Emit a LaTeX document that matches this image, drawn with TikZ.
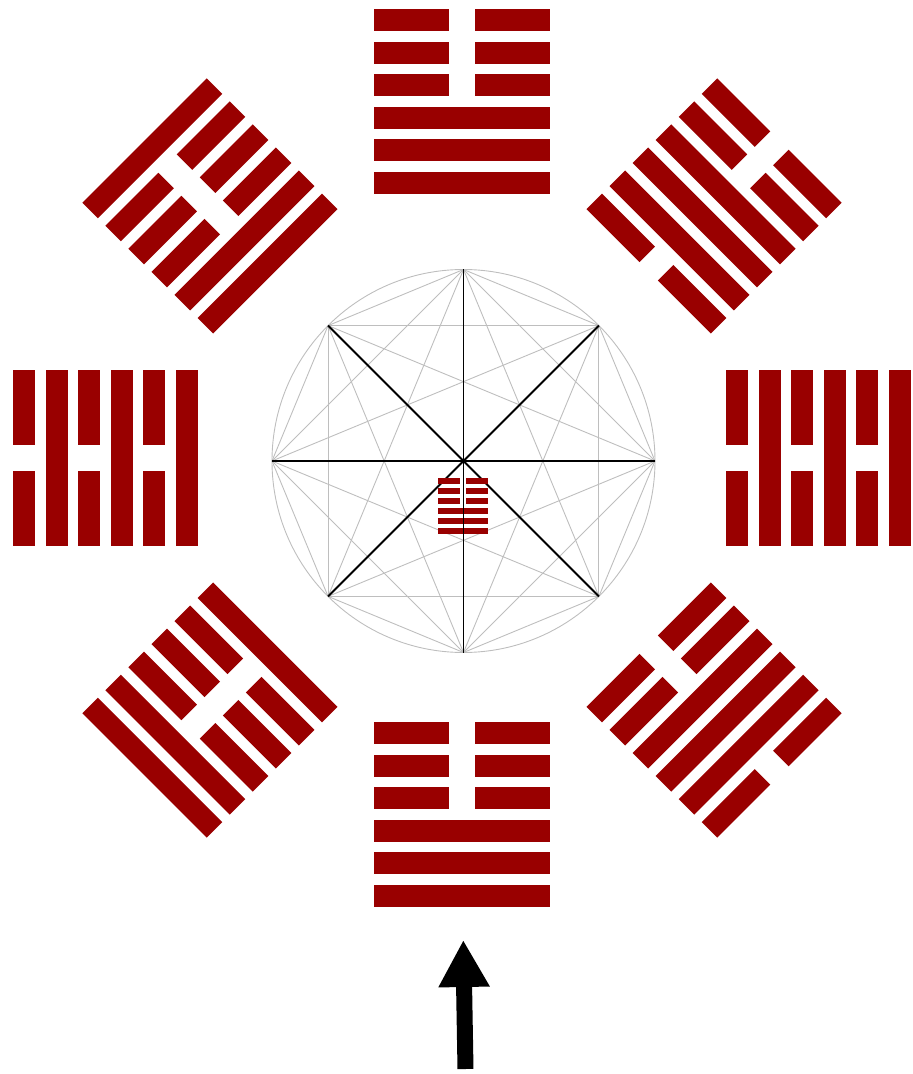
\documentclass[tikz,border=0pt]{standalone}
\usepackage{tikz}
\usetikzlibrary{calc}
\usetikzlibrary{arrows.meta}

\definecolor{hexred}{RGB}{153,0,0}
\definecolor{chordgray}{RGB}{190,190,190}

\newcommand{\hexlen}{176}
\newcommand{\hexthick}{22}
\newcommand{\hexpitch}{32.6}
\newcommand{\hexgap}{26}

% #1 centre, #2 rotation, #3 lines from top to bottom (1 solid, 0 broken)
\newcommand{\drawhexagram}[3]{%
  \begin{scope}[shift={#1}, rotate=#2]
    \foreach \b [count=\i] in {#3} {
      \pgfmathsetmacro\yy{(3.5-\i)*\hexpitch}
      \ifnum\b=1
        \fill[hexred] (-\hexlen/2,\yy-\hexthick/2) rectangle (\hexlen/2,\yy+\hexthick/2);
      \else
        \fill[hexred] (-\hexlen/2,\yy-\hexthick/2) rectangle (-\hexgap/2,\yy+\hexthick/2);
        \fill[hexred] (\hexgap/2,\yy-\hexthick/2) rectangle (\hexlen/2,\yy+\hexthick/2);
      \fi
    }
  \end{scope}}

\begin{document}
\begin{tikzpicture}[x=1pt, y=1pt,
    chord/.style={chordgray, line width=0.9pt},
    diameter/.style={black, line width=1.8pt},
    bigarrow/.style={line width=16pt, -{Triangle[length=47pt,width=48pt]}}]
  \useasboundingbox (-462,-616) rectangle (451,458);

  \coordinate (c) at (1.5,-3);
  \foreach \i in {0,...,7} {
    \coordinate (v\i) at ($(c)+(\i*45:191.5)$);
    \coordinate (h\i) at (\i*45:356.5);
  }

  \draw[chord] (c) circle (191.5);
  \foreach \i in {0,...,6} {
    \pgfmathtruncatemacro\first{\i+1}
    \foreach \j in {\first,...,7} {
      \pgfmathtruncatemacro\dd{\j-\i}
      \ifnum\dd=4 \else \draw[chord] (v\i) -- (v\j); \fi
    }
  }
  \foreach \i/\k in {0/4,1/5,3/7}
    \draw[diameter] (v\i) -- (v\k);

  {\renewcommand{\hexlen}{50}\renewcommand{\hexthick}{5.8}%
   \renewcommand{\hexpitch}{9.9}\renewcommand{\hexgap}{6}%
   \drawhexagram{(1.3,-48)}{0}{0,0,0,1,1,1}}
  \draw[diameter] (v2) -- (v6);

  \drawhexagram{(h0)}{90}{0,1,0,1,0,1}
  \drawhexagram{(h1)}{-45}{0,0,1,1,1,0}
  \drawhexagram{(h2)}{0}{0,0,0,1,1,1}
  \drawhexagram{(h3)}{45}{1,0,0,0,1,1}
  \drawhexagram{(h4)}{90}{0,1,0,1,0,1}
  \drawhexagram{(h5)}{-45}{1,0,0,0,1,1}
  \drawhexagram{(h6)}{0}{0,0,0,1,1,1}
  \drawhexagram{(h7)}{45}{0,0,1,1,1,0}

  \coordinate (tail) at (3.5,-611);
  \coordinate (tip) at (1.3,-482);
  \draw[bigarrow] (tail) -- (tip);
\end{tikzpicture}
\end{document}
